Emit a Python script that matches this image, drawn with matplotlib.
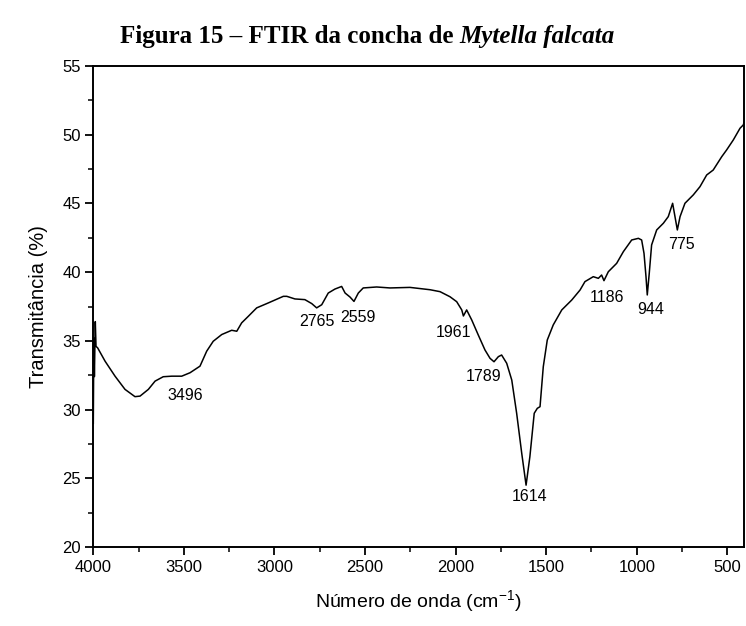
import matplotlib
matplotlib.use("Agg")
import matplotlib.pyplot as plt
from matplotlib.ticker import MultipleLocator

# ---- data ----
wavenumber = [4000, 3997, 3994, 3989, 3985, 3976, 3935, 3880, 3825, 3770, 3742, 3696,
              3659, 3614, 3567, 3512, 3466, 3411, 3374, 3338, 3291, 3236, 3208, 3181,
              3144, 3126, 3098, 3034, 2951, 2932, 2887, 2832, 2794, 2767, 2739, 2703,
              2666, 2629, 2610, 2583, 2561, 2537, 2510, 2436, 2362, 2252, 2141, 2086,
              2031, 1994, 1966, 1957, 1939, 1911, 1875, 1838, 1810, 1788, 1764, 1746,
              1718, 1690, 1663, 1635, 1611, 1590, 1566, 1549, 1534, 1516, 1494, 1461,
              1414, 1359, 1313, 1286, 1240, 1212, 1194, 1181, 1157, 1111, 1074, 1028,
              991, 973, 960, 949, 942, 931, 918, 890, 853, 826, 802, 789, 776, 761,
              734, 688, 651, 614, 578, 531, 504, 467, 430, 412, 403]
transmittance = [29.0, 35.2, 32.4, 36.4, 34.6, 34.49, 33.52, 32.43, 31.47, 30.94, 30.98, 31.47,
                 32.07, 32.39, 32.43, 32.43, 32.68, 33.16, 34.25, 34.97, 35.46, 35.77, 35.70, 36.31,
                 36.79, 37.03, 37.40, 37.76, 38.24, 38.24, 38.05, 38.00, 37.71, 37.40, 37.63, 38.48,
                 38.77, 38.96, 38.48, 38.19, 37.87, 38.48, 38.85, 38.92, 38.85, 38.89, 38.72, 38.58,
                 38.21, 37.85, 37.25, 36.81, 37.25, 36.52, 35.43, 34.34, 33.73, 33.48, 33.85, 33.97,
                 33.37, 32.15, 29.73, 26.82, 24.50, 26.57, 29.73, 30.09, 30.21, 33.12, 35.06, 36.16,
                 37.25, 37.97, 38.70, 39.31, 39.67, 39.55, 39.79, 39.38, 40.03, 40.64, 41.49, 42.34,
                 42.46, 42.34, 41.37, 39.67, 38.34, 39.92, 41.98, 43.07, 43.56, 44.04, 45.01, 44.04, 43.07, 44.04,
                 45.01, 45.62, 46.22, 47.07, 47.43, 48.40, 48.89, 49.62, 50.47, 50.71, 51.07]

peak_labels = ["3496", "2765", "2559", "1961", "1789", "1614", "1186", "944", "775"]
peak_x = [3490, 2767, 2537, 2010, 1847, 1593, 1166, 923, 752]
peak_y = [31.0, 36.4, 36.7, 35.6, 32.44, 23.66, 38.17, 37.25, 41.98]

x_ticks = [4000, 3500, 3000, 2500, 2000, 1500, 1000, 500]
y_ticks = [20, 25, 30, 35, 40, 45, 50, 55]

title_plain = "Figura 15 \u2013 FTIR da concha de "
title_italic = "Mytella falcata"
xlabel = "N\u00famero de onda (cm$^{\\mathregular{-1}}$)"
ylabel = "Transmit\u00e2ncia (%)"

# ---- figure ----
plt.rcParams['font.family'] = ['Liberation Sans', 'DejaVu Sans']
plt.rcParams['mathtext.fontset'] = 'custom'
plt.rcParams['mathtext.rm'] = 'Liberation Sans'
plt.rcParams['mathtext.it'] = 'Liberation Sans:italic'

fig = plt.figure(figsize=(7.46, 6.26), dpi=100)
ax = fig.add_axes([93.3 / 746, 1 - 547 / 626, (744 - 93.3) / 746, (547 - 66) / 626])

ax.plot(wavenumber, transmittance, color='black', lw=1.1)

ax.set_xlim(4000, 408)
ax.set_ylim(20, 55)
ax.set_xticks(x_ticks)
ax.set_yticks(y_ticks)
ax.xaxis.set_minor_locator(MultipleLocator(250))
ax.yaxis.set_minor_locator(MultipleLocator(2.5))
ax.tick_params(which='major', direction='out', length=6, width=1.3, labelsize=12, pad=3)
ax.tick_params(which='minor', direction='out', length=3.5, width=1.1)
for s in ax.spines.values():
    s.set_linewidth(1.4)

ax.set_xlabel(xlabel, fontsize=14, labelpad=10)
ax.set_ylabel(ylabel, fontsize=14.5, labelpad=10)

for lab, px, py in zip(peak_labels, peak_x, peak_y):
    ax.text(px, py, lab, ha='center', va='center', fontsize=11.5)

# title with mixed bold / bold italic
fig.canvas.draw()
r = fig.canvas.get_renderer()
tfont = dict(family='Liberation Serif', fontsize=18, weight='bold')
t1 = fig.text(0, 0, title_plain, **tfont)
t2 = fig.text(0, 0, title_italic, style='italic', **tfont)
w1 = t1.get_window_extent(r).width
w2 = t2.get_window_extent(r).width
cx = 367
x0 = cx - (w1 + w2) / 2
ty = 1 - 37 / 626
t1.set_position((x0 / 746, ty))
t1.set_va('center')
t2.set_position(((x0 + w1) / 746, ty))
t2.set_va('center')

fig.savefig('out.png', dpi=100)
